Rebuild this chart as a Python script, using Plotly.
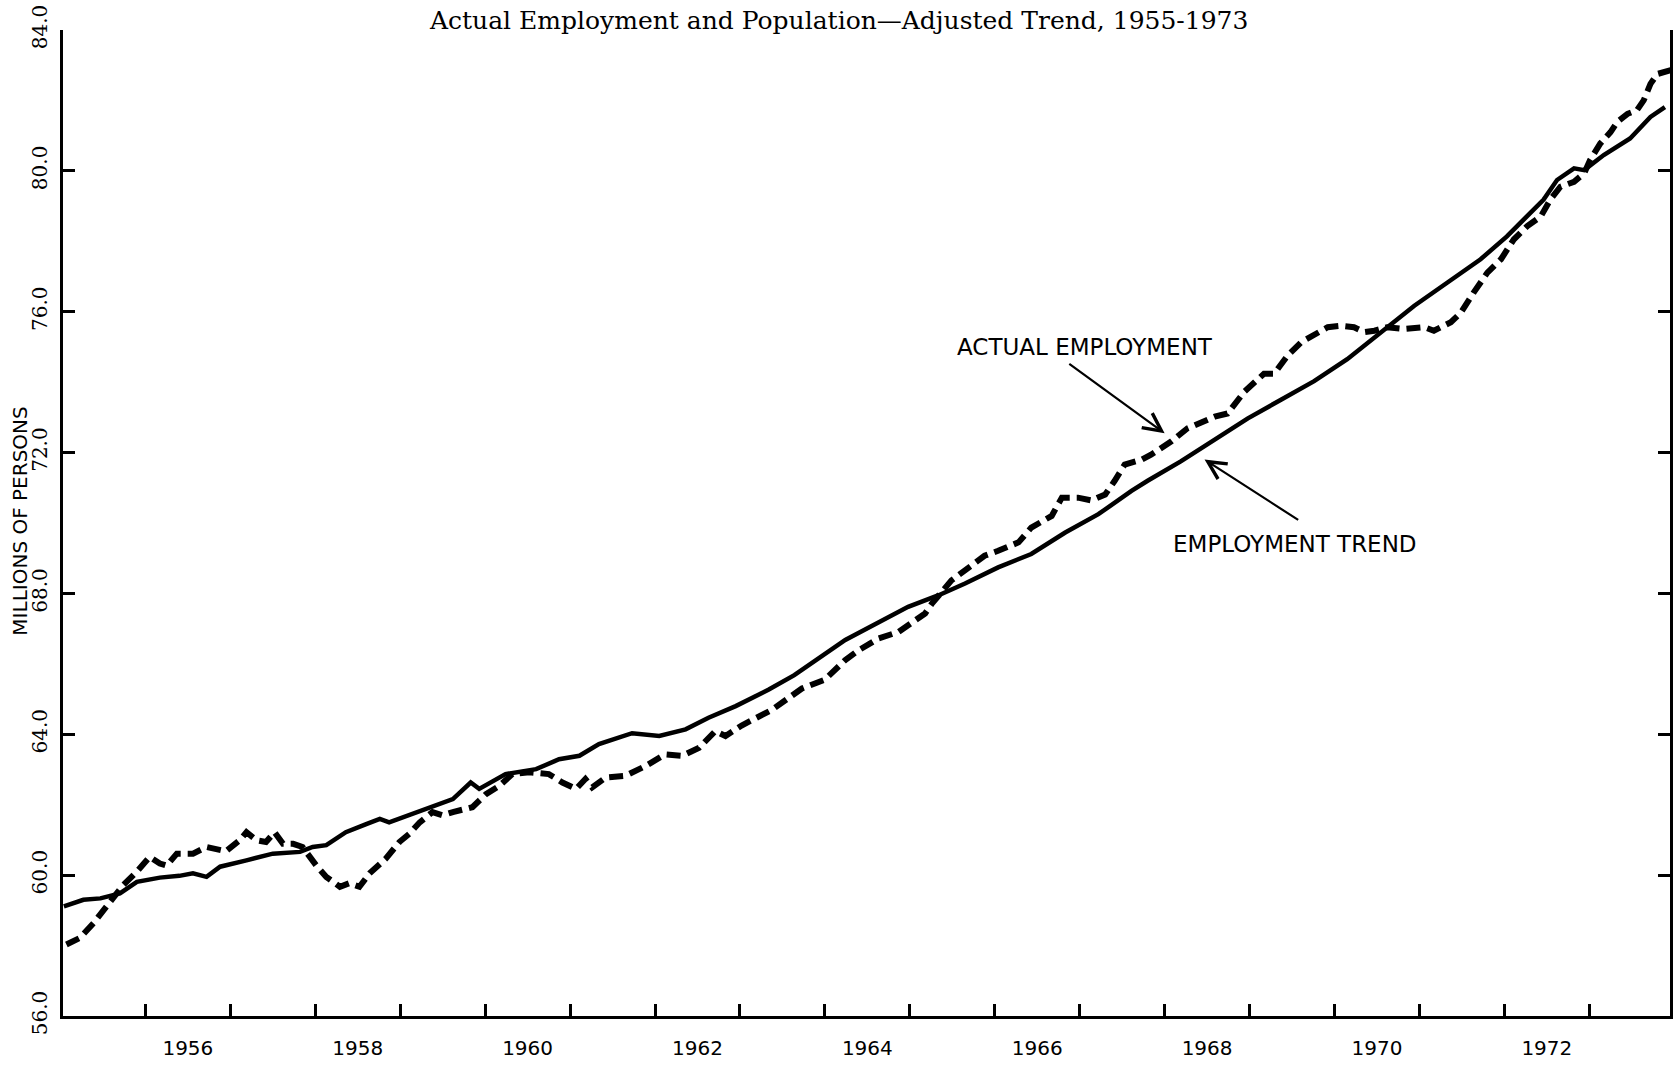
import plotly.graph_objects as go

# ---- data ----
trend_year = [1955.04, 1955.27, 1955.47, 1955.70, 1955.90, 1956.17, 1956.40, 1956.56, 1956.72, 1956.88,
              1957.19, 1957.50, 1957.82, 1957.97, 1958.13, 1958.36, 1958.60, 1958.76, 1958.87, 1959.15,
              1959.46, 1959.62, 1959.83, 1959.93, 1960.24, 1960.60, 1960.87, 1961.11, 1961.34, 1961.73,
              1962.05, 1962.36, 1962.63, 1962.95, 1963.34, 1963.64, 1964.24, 1964.67, 1964.98, 1965.34,
              1965.65, 1966.04, 1966.43, 1966.83, 1967.22, 1967.61, 1967.80, 1968.19, 1968.59, 1968.98,
              1969.37, 1969.76, 1970.15, 1970.55, 1970.94, 1971.33, 1971.72, 1972.03, 1972.27, 1972.46,
              1972.62, 1972.82, 1972.94, 1973.17, 1973.48, 1973.72, 1973.89]
trend_value = [59.11, 59.30, 59.34, 59.48, 59.81, 59.93, 59.98, 60.05, 59.95, 60.24,
               60.42, 60.61, 60.66, 60.80, 60.85, 61.22, 61.45, 61.60, 61.50, 61.74,
               62.02, 62.16, 62.63, 62.45, 62.87, 63.01, 63.29, 63.39, 63.72, 64.03,
               63.95, 64.14, 64.47, 64.80, 65.27, 65.68, 66.68, 67.24, 67.62, 67.95,
               68.28, 68.74, 69.12, 69.73, 70.25, 70.91, 71.20, 71.75, 72.36, 72.97,
               73.50, 74.03, 74.65, 75.42, 76.17, 76.83, 77.49, 78.14, 78.71, 79.18,
               79.74, 80.07, 80.02, 80.45, 80.92, 81.53, 81.81]

actual_year = [1955.07, 1955.23, 1955.39, 1955.54, 1955.74, 1955.90, 1956.05, 1956.17, 1956.25, 1956.37,
               1956.56, 1956.72, 1956.95, 1957.11, 1957.19, 1957.31, 1957.42, 1957.52, 1957.62, 1957.74,
               1957.85, 1958.01, 1958.13, 1958.29, 1958.40, 1958.52, 1958.64, 1958.83, 1958.99, 1959.11,
               1959.23, 1959.38, 1959.50, 1959.62, 1959.85, 1960.01, 1960.17, 1960.32, 1960.52, 1960.75,
               1960.91, 1961.07, 1961.18, 1961.26, 1961.42, 1961.65, 1961.89, 1962.12, 1962.32, 1962.52,
               1962.71, 1962.83, 1963.02, 1963.38, 1963.73, 1963.89, 1964.00, 1964.24, 1964.40, 1964.63,
               1964.87, 1965.18, 1965.26, 1965.49, 1965.65, 1965.88, 1966.04, 1966.28, 1966.43, 1966.67,
               1966.79, 1966.98, 1967.14, 1967.30, 1967.41, 1967.53, 1967.73, 1967.84, 1968.08, 1968.27,
               1968.59, 1968.74, 1968.94, 1969.17, 1969.29, 1969.45, 1969.61, 1969.92, 1970.08, 1970.23,
               1970.35, 1970.47, 1970.62, 1970.82, 1971.06, 1971.17, 1971.37, 1971.49, 1971.64, 1971.80,
               1971.96, 1972.11, 1972.27, 1972.43, 1972.54, 1972.66, 1972.82, 1972.94, 1973.01, 1973.13,
               1973.25, 1973.33, 1973.45, 1973.56, 1973.64, 1973.72, 1973.80, 1973.96]
actual_value = [58.03, 58.22, 58.64, 59.11, 59.72, 60.10, 60.52, 60.33, 60.27, 60.61,
                60.61, 60.80, 60.68, 60.99, 61.22, 60.99, 60.94, 61.22, 60.89, 60.89,
                60.80, 60.28, 59.95, 59.67, 59.77, 59.67, 60.05, 60.47, 60.94, 61.18,
                61.50, 61.79, 61.70, 61.79, 61.93, 62.30, 62.54, 62.87, 62.92, 62.87,
                62.63, 62.45, 62.73, 62.49, 62.77, 62.82, 63.10, 63.43, 63.39, 63.62,
                64.09, 63.95, 64.25, 64.70, 65.30, 65.45, 65.55, 66.11, 66.39, 66.72,
                66.91, 67.43, 67.71, 68.37, 68.65, 69.07, 69.21, 69.45, 69.87, 70.20,
                70.72, 70.72, 70.64, 70.81, 71.19, 71.66, 71.80, 71.94, 72.32, 72.69,
                73.02, 73.11, 73.73, 74.24, 74.24, 74.76, 75.14, 75.56, 75.60, 75.56,
                75.42, 75.46, 75.56, 75.51, 75.56, 75.46, 75.70, 75.98, 76.55, 77.11,
                77.49, 78.05, 78.43, 78.71, 79.18, 79.55, 79.69, 79.93, 80.31, 80.78,
                81.10, 81.39, 81.62, 81.72, 82.00, 82.47, 82.75, 82.86]

x_label_years = [1956, 1958, 1960, 1962, 1964, 1966, 1968, 1970, 1972]
x_tick_years = list(range(1956, 1974))
y_ticks = [56, 60, 64, 68, 72, 76, 80, 84]

title_text = "Actual Employment and Population\u2014Adjusted Trend, 1955-1973"
y_title = "MILLIONS OF PERSONS"

# ---- figure ----
fig = go.Figure()
fig.add_trace(go.Scatter(x=trend_year, y=trend_value, mode="lines",
                         line=dict(color="black", width=4.5), name="Employment trend",
                         showlegend=False))
fig.add_trace(go.Scatter(x=actual_year, y=actual_value, mode="lines",
                         line=dict(color="black", width=6, dash="14px,7px"), name="Actual employment",
                         showlegend=False))

sans = "DejaVu Sans"
serif = "DejaVu Serif"

fig.update_layout(
    width=1678, height=1065,
    margin=dict(l=63, r=5, t=29, b=43),
    paper_bgcolor="white", plot_bgcolor="white",
    xaxis=dict(
        range=[1955.03, 1973.95],
        tickmode="array",
        tickvals=[y + 0.5 for y in x_label_years],
        ticktext=[str(y) for y in x_label_years],
        ticks="", showgrid=False, zeroline=False,
        showline=True, linecolor="black", linewidth=3,
        tickfont=dict(family=sans, size=20, color="black"),
        ticklabelstandoff=12,
        minor=dict(tickmode="array", tickvals=x_tick_years, ticks="inside",
                   ticklen=12, tickwidth=3, tickcolor="black", showgrid=False),
    ),
    yaxis=dict(
        range=[56, 84],
        tickmode="array",
        tickvals=y_ticks,
        ticktext=[f"{v:.1f}" for v in y_ticks],
        ticks="inside", ticklen=12, tickwidth=3, tickcolor="black",
        showgrid=False, zeroline=False,
        showline=True, linecolor="black", linewidth=3, mirror="ticks",
        tickangle=-90,
        ticklabelstandoff=5,
        ticklabeloverflow="allow",
        tickfont=dict(family=serif, size=20, color="black"),
    ),
)

# title and axis label
fig.add_annotation(text=title_text, xref="paper", yref="paper", x=0.4826, y=1.010,
                   xanchor="center", yanchor="middle", showarrow=False,
                   font=dict(family=serif, size=25, color="black"))
fig.add_annotation(text=y_title, xref="paper", yref="paper", x=-0.0273, y=0.5015,
                   xanchor="center", yanchor="middle", textangle=-90, showarrow=False,
                   font=dict(family=sans, size=20, color="black"))

# labels with arrows
fig.add_annotation(text="ACTUAL EMPLOYMENT", x=1967.06, y=75.01, xref="x", yref="y",
                   showarrow=False, font=dict(family=sans, size=23, color="black"))
fig.add_annotation(text="", x=1968.0, y=72.55, xref="x", yref="y",
                   ax=1966.86, ay=74.55, axref="x", ayref="y",
                   showarrow=True, arrowhead=5, arrowsize=1.6, arrowwidth=2.2, arrowcolor="black")
fig.add_annotation(text="EMPLOYMENT TREND", x=1969.54, y=69.40, xref="x", yref="y",
                   showarrow=False, font=dict(family=sans, size=23, color="black"))
fig.add_annotation(text="", x=1968.47, y=71.80, xref="x", yref="y",
                   ax=1969.59, ay=70.06, axref="x", ayref="y",
                   showarrow=True, arrowhead=5, arrowsize=1.6, arrowwidth=2.2, arrowcolor="black")

# remove the browser's default 8px body margin so the figure fills the window exactly
fig.write_html("out.html", config={"displayModeBar": False},
               post_script="document.body.style.margin='0px';")
